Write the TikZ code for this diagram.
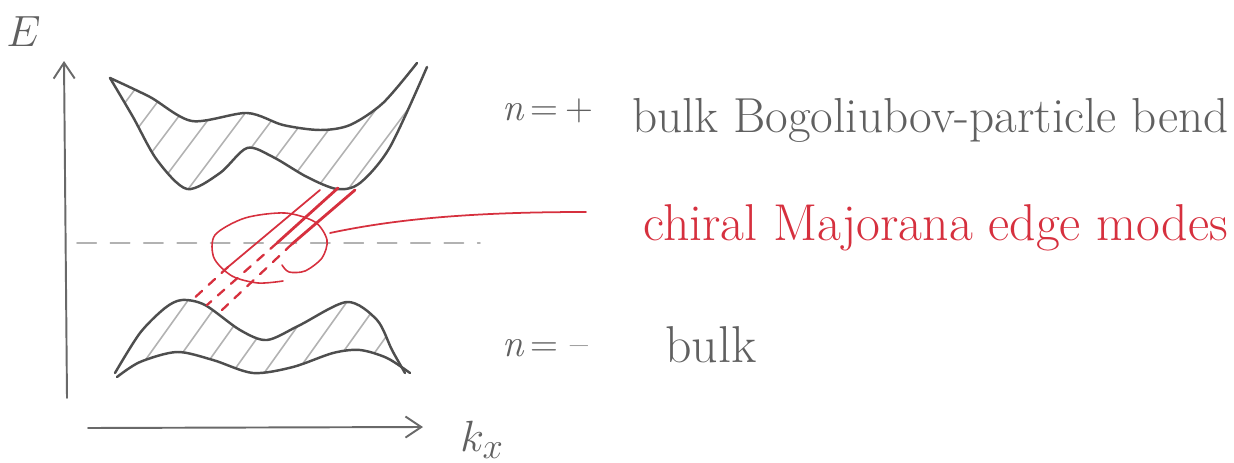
\documentclass[tikz,border=0pt]{standalone}
\usepackage{fontspec}
\usetikzlibrary{arrows.meta,calc}
\definecolor{pencil}{RGB}{78,78,78}
\definecolor{pencillight}{RGB}{178,178,178}
\definecolor{inkred}{RGB}{214,48,62}
\begin{document}
\begin{tikzpicture}[x=0.02cm, y=-0.02cm, line cap=round, line join=round,
  band/.style={pencil, line width=1.4pt},
  hatch/.style={pencillight, line width=0.9pt},
  axis/.style={pencil!85, line width=1.1pt, -{Straight Barb[length=9pt,width=12pt]}},
  edge/.style={inkred, line width=1.3pt},
  lbl/.style={anchor=west, inner sep=0pt, text=pencil!90, font=\fontsize{28}{32}\selectfont}]
	\useasboundingbox (0,0) rectangle (1234,463);
	\coordinate (o) at (67,398);
	\draw[axis] (o) -- (64,61);
	\draw[axis] (88,428) -- (423,427);
	\draw[pencillight, line width=0.9pt, dash pattern=on 11pt off 8pt] (77,243) -- (480,243);
	\begin{scope}
		\clip plot[smooth] coordinates {(110,78) (150,97) (192,121) (247,113) (283,125) (320,130) (350,125) (383,103) (417,63)}
			-- plot[smooth] coordinates {(427,67) (390,147) (360,183) (337,189) (307,177) (273,157) (247,148) (220,173) (187,189) (157,160) (133,117) (110,78)} -- cycle;
		\foreach \x in {20,52,...,440} \draw[hatch] (\x,200) -- ++(150,-200);
	\end{scope}
	\begin{scope}
		\clip plot[smooth] coordinates {(115,373) (140,333) (165,308) (182,300) (205,305) (240,330) (267,340) (300,325) (347,302) (377,320) (392,350) (405,373)}
			-- plot[smooth] coordinates {(410,373) (387,358) (360,350) (333,353) (293,367) (253,373) (213,360) (177,352) (140,362) (117,377)} -- cycle;
		\foreach \x in {60,92,...,420} \draw[hatch] (\x,390) -- ++(75,-105);
	\end{scope}
	\draw[band] plot[smooth] coordinates {(110,78) (150,97) (192,121) (247,113) (283,125) (320,130) (350,125) (383,103) (417,63)};
	\draw[band] plot[smooth] coordinates {(110,78) (133,117) (157,160) (187,189) (220,173) (247,148) (273,157) (307,177) (337,189) (360,183) (390,147) (427,67)};
	\draw[band] plot[smooth] coordinates {(115,373) (140,333) (165,308) (182,300) (205,305) (240,330) (267,340) (300,325) (347,302) (377,320) (392,350) (405,373)};
	\draw[band] plot[smooth] coordinates {(117,377) (140,362) (177,352) (213,360) (253,373) (293,367) (333,353) (360,350) (387,358) (410,373)};
	\coordinate (m1) at (320,190);
	\coordinate (m2) at (338,188);
	\coordinate (m3) at (355,190);
	\draw[edge, line width=1pt] (m1) -- (228,267);
	\draw[edge, dash pattern=on 5pt off 5pt] (228,267) -- (190,302);
	\draw[edge, line width=1.6pt] (m2) -- (277,243);
	\draw[edge, dash pattern=on 5pt off 5pt] (277,243) -- (207,305);
	\draw[edge, line width=1.6pt] (m3) -- (292,244);
	\draw[edge, dash pattern=on 5pt off 5pt] (292,244) -- (222,310);
	\draw[edge, line width=0.9pt] plot[smooth] coordinates {(282,265) (289,272) (305,271) (322,258) (327,240) (315,222) (285,213) (245,218) (215,235) (214,258) (232,276) (258,283) (283,281)};
	\node[lbl, font=\fontsize{22}{26}\selectfont] (nplus) at (502,111) {\textit{n}\,=\,+};
	\node[lbl] (bogo) at (632,120) {bulk Bogoliubov-particle bend};
	\node[lbl, text=inkred, font=\fontsize{29.5}{34}\selectfont] (chiral) at (643,228) {chiral Majorana edge modes};
	\node[lbl, font=\fontsize{22}{26}\selectfont] (nminus) at (502,348) {\textit{n}\,= --};
	\node[lbl, font=\fontsize{29.5}{34}\selectfont] (bulk) at (665,345) {bulk};
	\node[lbl, font=\fontsize{30}{34}\selectfont] (elbl) at (6,32) {$E$};
	\node[lbl] (klbl) at (460,440) {$k_x$};
	\coordinate (loop) at (330,233);
	\draw[edge, line width=1pt] (loop) .. controls (400,218) and (480,212) .. ($(chiral.west)+(-57,-16)$);
\end{tikzpicture}
\end{document}
